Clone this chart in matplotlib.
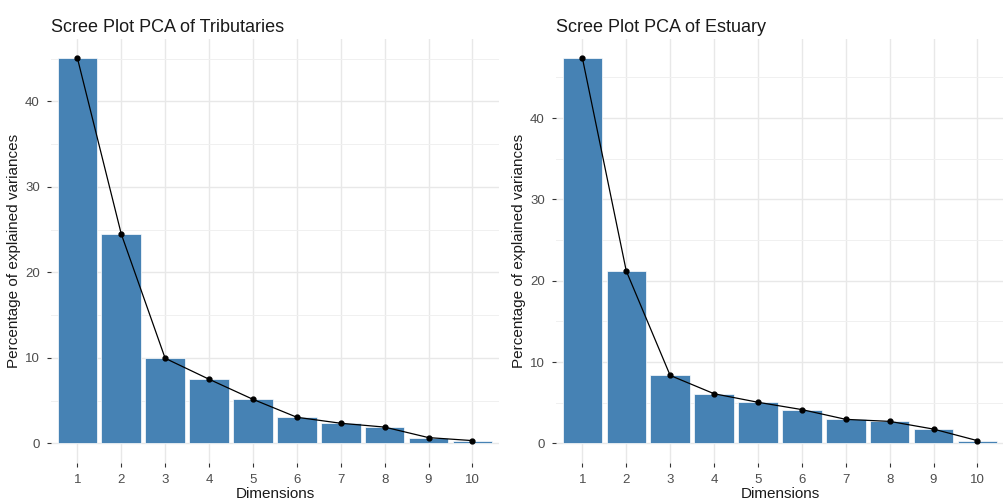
import matplotlib.pyplot as plt
import numpy as np

plt.rcParams["font.family"] = ["Liberation Sans", "DejaVu Sans"]

dims = list(range(1, 11))
trib_var = [45.1, 24.5, 9.95, 7.5, 5.15, 3.05, 2.35, 1.9, 0.67, 0.32]
estu_var = [47.4, 21.2, 8.35, 6.1, 5.05, 4.15, 2.95, 2.7, 1.75, 0.33]
titles = ["Scree Plot PCA of Tributaries", "Scree Plot PCA of Estuary"]

fig = plt.figure(figsize=(10.04, 5.03), dpi=100)
axes = [fig.add_axes([0.0508, 0.0803, 0.446, 0.843]),
        fig.add_axes([0.5538, 0.0803, 0.446, 0.843])]


def scree(ax, vals, title):
    x = np.array(dims)
    ax.set_axisbelow(True)
    ax.bar(x, vals, width=0.9, color="#4682B4", edgecolor="white", linewidth=0.5)
    ax.plot(x, vals, color="black", linewidth=0.9, marker="o", markersize=3.5)

    top = max(vals)
    ax.set_xlim(0.4, 10.6)
    ax.set_ylim(-0.05 * top, 1.05 * top)
    ax.set_xticks(x)
    ax.set_yticks([0, 10, 20, 30, 40])
    ax.set_yticks([5, 15, 25, 35, 45], minor=True)
    ax.grid(True, which="major", color="#E8E8E8", linewidth=1.0)
    ax.grid(True, which="minor", axis="y", color="#F0F0F0", linewidth=0.7)
    for s in ax.spines.values():
        s.set_visible(False)
    ax.tick_params(which="major", length=3, width=0.8, color="#333333",
                   labelsize=9.5, labelcolor="#4D4D4D", pad=5)
    ax.tick_params(which="minor", length=0)
    ax.set_xlabel("Dimensions", fontsize=11, color="#1A1A1A", labelpad=1)
    ax.set_ylabel("Percentage of explained variances", fontsize=11,
                  color="#1A1A1A", labelpad=3)
    ax.set_title(title, fontsize=13, loc="left", pad=5, color="#1A1A1A")


for ax, vals, t in zip(axes, [trib_var, estu_var], titles):
    scree(ax, vals, t)

fig.savefig("out.png", dpi=100)
